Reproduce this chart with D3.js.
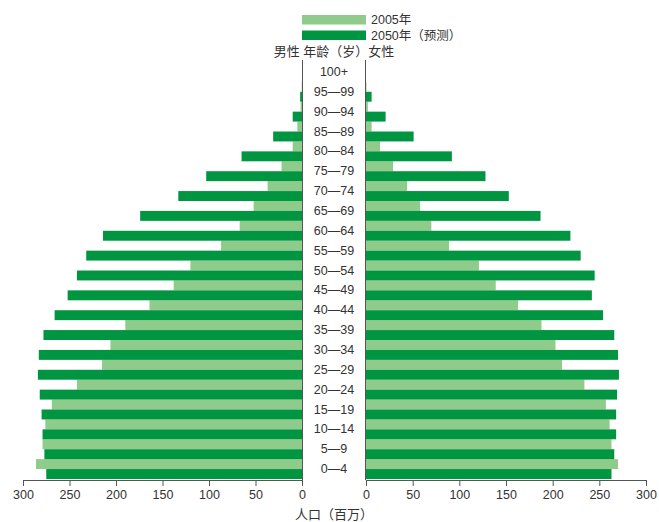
<!DOCTYPE html>
<html><head><meta charset="utf-8">
<script src="https://cdn.jsdelivr.net/npm/d3@7"></script>
<style>
body{margin:0;background:#fff;}
svg{display:block;}
text{font-family:"Liberation Sans","Noto Sans CJK SC",sans-serif;fill:#333;}
.cjk{font-family:"Liberation Sans","Noto Sans CJK SC",sans-serif;}
</style></head><body>
<script>
const ages = ["0—4","5—9","10—14","15—19","20—24","25—29","30—34","35—39","40—44","45—49","50—54","55—59","60—64","65—69","70—74","75—79","80—84","85—89","90—94","95—99","100+"];
const male2005   = [286,279,276,269,242,215,206,190,164,138,120,87,67,52,37,22,10,5,1.5,0.3,0];
const male2050   = [275,277,279,280,282,284,283,278,266,252,242,232,214,174,133,103,65,31,10,2,0];
const female2005 = [270,263,261,257,234,210,203,188,163,139,121,89,70,58,44,29,15,6,2,0.5,0];
const female2050 = [263,266,268,268,269,271,270,266,254,242,245,230,219,187,153,128,92,51,21,6,0];
const ticks = [0,50,100,150,200,250,300];
const legendLabels = ["2005年","2050年（预测）"];
const colors = {light:"#8fcb8a", dark:"#009540"};

const W=659,H=522;
const svg=d3.select("body").append("svg").attr("width",W).attr("height",H);

const y=d3.scaleBand().domain(ages.slice().reverse()).range([62,479]).paddingInner(0);
const xL=d3.scaleLinear().domain([0,300]).range([302,23]);
const xR=d3.scaleLinear().domain([0,300]).range([366,646]);
const bw=y.bandwidth()/2;

const rows=ages.map((a,i)=>({age:a,m05:male2005[i],m50:male2050[i],f05:female2005[i],f50:female2050[i]}));

const g=svg.append("g");
g.selectAll(".ml").data(rows).join("rect")
 .attr("x",d=>xL(d.m05)).attr("width",d=>xL(0)-xL(d.m05))
 .attr("y",d=>y(d.age)).attr("height",bw).attr("fill",colors.light);
g.selectAll(".md").data(rows).join("rect")
 .attr("x",d=>xL(d.m50)).attr("width",d=>xL(0)-xL(d.m50))
 .attr("y",d=>y(d.age)+bw).attr("height",bw).attr("fill",colors.dark);
g.selectAll(".fl").data(rows).join("rect")
 .attr("x",xR(0)).attr("width",d=>xR(d.f05)-xR(0))
 .attr("y",d=>y(d.age)).attr("height",bw).attr("fill",colors.light);
g.selectAll(".fd").data(rows).join("rect")
 .attr("x",xR(0)).attr("width",d=>xR(d.f50)-xR(0))
 .attr("y",d=>y(d.age)+bw).attr("height",bw).attr("fill",colors.dark);

svg.append("line").attr("x1",xL(0)+0.5).attr("x2",xL(0)+0.5).attr("y1",60).attr("y2",480).attr("stroke","#555").attr("stroke-width",1);
svg.append("line").attr("x1",xR(0)-0.5).attr("x2",xR(0)-0.5).attr("y1",60).attr("y2",480).attr("stroke","#555").attr("stroke-width",1);

svg.selectAll(".age").data(ages).join("text")
 .attr("x",334).attr("y",d=>y(d)+y.bandwidth()/2).attr("text-anchor","middle")
 .attr("dominant-baseline","central").attr("font-size",12.5).text(d=>d);

function styleAxis(sel){
  sel.select(".domain").attr("stroke","#555");
  sel.selectAll(".tick line").attr("stroke","#555");
  sel.selectAll(".tick text").attr("font-size",12.5).attr("fill","#333")
    .attr("font-family","'Liberation Sans',sans-serif").attr("dy","0.85em");
}
svg.append("g").attr("transform","translate(0,480)")
 .call(d3.axisBottom(xL).tickValues(ticks).tickSize(6).tickSizeOuter(0).tickPadding(2)).call(styleAxis);
svg.append("g").attr("transform","translate(0,480)")
 .call(d3.axisBottom(xR).tickValues(ticks).tickSize(6).tickSizeOuter(0).tickPadding(2)).call(styleAxis);

svg.append("text").attr("class","cjk").attr("x",334).attr("y",514).attr("text-anchor","middle")
 .attr("dominant-baseline","central").attr("font-size",13).text("人口（百万）");

svg.append("text").attr("class","cjk").attr("x",334).attr("y",51).attr("text-anchor","middle")
 .attr("dominant-baseline","central").attr("font-size",13).attr("fill","#222")
 .text("男性 年龄（岁）女性");

const leg=svg.append("g");
[colors.light,colors.dark].forEach((c,i)=>{
  leg.append("rect").attr("x",302).attr("y",15+i*15.5).attr("width",64).attr("height",9.5).attr("fill",c);
  leg.append("text").attr("class","cjk").attr("x",371).attr("y",20+i*15.5).attr("dominant-baseline","central")
   .attr("font-size",12.5).text(legendLabels[i]);
});
</script>
</body></html>
